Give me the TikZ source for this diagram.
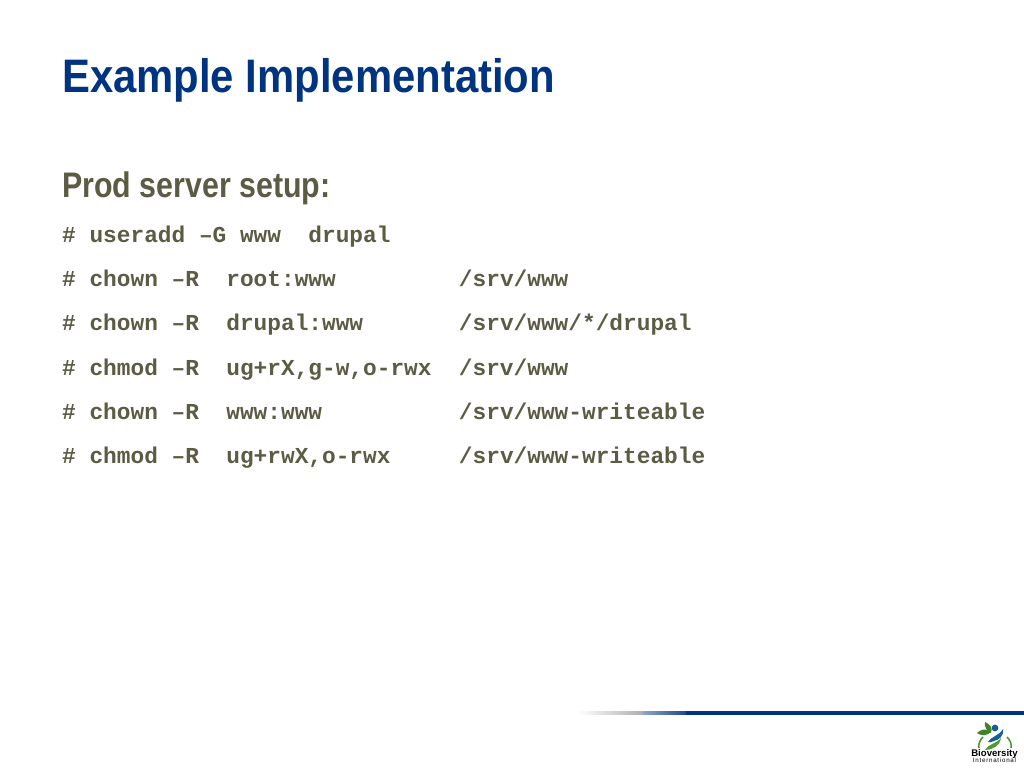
\documentclass[tikz,border=0pt]{standalone}
\usepackage{fontspec}
\setmainfont{Liberation Sans}
\setmonofont{Liberation Mono}
\definecolor{navy}{HTML}{003380}
\definecolor{olive}{HTML}{5C5C45}
\definecolor{leaf}{HTML}{4E9A2E}
\definecolor{skyb}{HTML}{1F6FB0}
\tikzset{
  x=1pt,y=-1pt,
  titletext/.style={anchor=base west,inner sep=0pt,text=navy,font=\fontsize{47}{47}\selectfont\bfseries,xscale=.89,transform shape},
  headtext/.style={anchor=base west,inner sep=0pt,text=olive,font=\fontsize{35.5}{36}\selectfont\bfseries,xscale=.855,transform shape},
  codetext/.style={anchor=base west,inner sep=0pt,text=olive,font=\fontsize{22.8}{24}\selectfont\ttfamily\bfseries},
  logotext/.style={anchor=base,inner sep=0pt,text=black}
}
\begin{document}
\begin{tikzpicture}
\useasboundingbox (0,0) rectangle (1024,768);
\fill[white] (0,0) rectangle (1024,768);
\node[titletext] (title) at (62,92) {Example Implementation};
\node[headtext] (head) at (62,197) {Prod server setup:};
\node[codetext] (l1) at (62,242) {\#~useradd~–G~www~~drupal};
\node[codetext] (l2) at (62,286) {\#~chown~–R~~root:www~~~~~~~~~/srv/www};
\node[codetext] (l3) at (62,330) {\#~chown~–R~~drupal:www~~~~~~~/srv/www/*/drupal};
\node[codetext] (l4) at (62,375) {\#~chmod~–R~~ug+rX,g-w,o-rwx~~/srv/www};
\node[codetext] (l5) at (62,419) {\#~chown~–R~~www:www~~~~~~~~~~/srv/www-writeable};
\node[codetext] (l6) at (62,463) {\#~chmod~–R~~ug+rwX,o-rwx~~~~~/srv/www-writeable};
% gradient rule
\shade[left color=white,right color=black!30] (578,711) rectangle (640,714.5);
\shade[left color=black!30,right color=navy!45] (640,711) rectangle (644,714.5);
\shade[left color=navy!45,right color=navy!90] (644,711) rectangle (686,714.5);
\fill[navy] (686,711) rectangle (1024,714.5);
% logo
\fill[leaf!85!black] (977,733) .. controls (981,729) and (986,728) .. (991,732) .. controls (987,736) and (981,736) .. (977,733) -- cycle;
\fill[leaf!85!black] (985,722) .. controls (990,724) and (993,728) .. (991,733) .. controls (987,731) and (984,727) .. (985,722) -- cycle;
\fill[skyb!85!black] (995,728) circle (3.4);
\fill[skyb!85!black] (988,742) .. controls (990,737) and (999,736) .. (1003,729) .. controls (1004,736) and (999,740) .. (994,741) .. controls (991,742) and (989,743) .. (988,742) -- cycle;
\fill[leaf] (985,750) .. controls (988,744) and (996,744) .. (1001,738) .. controls (1000,746) and (992,750) .. (985,750) -- cycle;
\draw[leaf,line width=1.6] (979,748) .. controls (978,744) and (980,740) .. (983,737);
\draw[leaf,line width=1.6] (1011,748) .. controls (1012,744) and (1010,740) .. (1007,737);
\node[logotext,font=\fontsize{9.6}{10}\selectfont\bfseries] (bio) at (994.5,756) {Bioversity};
\node[logotext,font=\fontsize{6.2}{7}\selectfont\addfontfeature{LetterSpace=12}] (intl) at (994.5,762) {International};
\end{tikzpicture}
\end{document}
